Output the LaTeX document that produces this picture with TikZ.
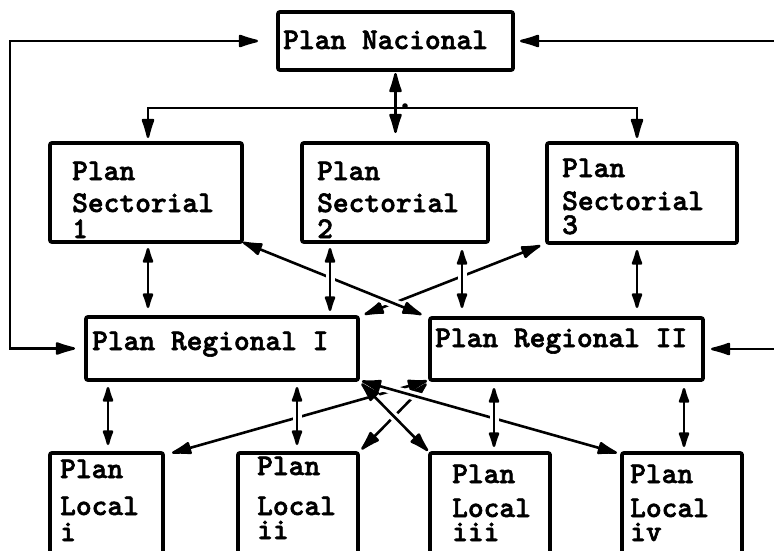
\documentclass[tikz,border=0pt]{standalone}
\usepackage{fontspec}
\newfontfamily\twfont{lmmonolt10-bold.otf}[FakeBold=2]
\usetikzlibrary{arrows.meta,calc}
\begin{document}
\begin{tikzpicture}[x=1pt,y=-1pt,
  box/.style={draw, line width=3.8pt, rounded corners=2pt, inner sep=0pt, outer sep=0pt},
  txt/.style={anchor=base west, inner sep=0pt, font=\fontsize{30}{32}\selectfont\twfont},
  conn/.style={line width=2.6pt},
  dbl/.style={conn, {Latex[length=25pt,width=14pt,round]}-{Latex[length=25pt,width=14pt,round]}},
  sdbl/.style={conn, {Latex[length=20pt,width=12pt,round]}-{Latex[length=20pt,width=12pt,round]}},
  arr/.style={conn, -{Latex[length=25pt,width=14pt,round]}},
  gap/.style={draw=white, line width=9pt, shorten <=17pt, shorten >=17pt}]
\useasboundingbox (0,0) rectangle (774,551);
\clip (0,0) rectangle (774,551);

% helper coordinates
\coordinate (lx) at (10,0);
\coordinate (rx) at (778,0);
\coordinate (bus) at (395,108);
\coordinate (v1) at (148,0);
\coordinate (v2) at (330,0);
\coordinate (v3) at (462,0);
\coordinate (v4) at (637,0);
\coordinate (w1) at (108,0);
\coordinate (w2) at (297,0);
\coordinate (w3) at (494,0);
\coordinate (w4) at (684,0);

% boxes
\node[box, minimum width=235pt, minimum height=58pt] (nac) at (395.5,41) {};
\node[box, minimum width=192pt, minimum height=99pt] (s1) at (146,192.5) {};
\node[box, minimum width=186pt, minimum height=99pt] (s2) at (395,192.5) {};
\node[box, minimum width=190pt, minimum height=100pt] (s3) at (642,193) {};
\node[box, minimum width=272pt, minimum height=63pt] (r1) at (222,348.5) {};
\node[box, minimum width=273pt, minimum height=62pt] (r2) at (566.5,349) {};
\node[box, minimum width=113pt, minimum height=122pt] (li) at (106.5,514) {};
\node[box, minimum width=120pt, minimum height=122pt] (lii) at (298,514) {};
\node[box, minimum width=120pt, minimum height=122pt] (liii) at (490,514) {};
\node[box, minimum width=120pt, minimum height=122pt] (liv) at (682,514) {};

% texts
\node[txt] (tn) at (283,49) {Plan Nacional};
\node[txt] (ts1a) at (72,180) {Plan};
\node[txt] (ts1b) at (72,212) {Sectorial};
\node[txt] (ts1c) at (72,238) {1};
\node[txt] (ts2a) at (317,180) {Plan};
\node[txt] (ts2b) at (317,212) {Sectorial};
\node[txt] (ts2c) at (317,238) {2};
\node[txt] (ts3a) at (562,177) {Plan};
\node[txt] (ts3b) at (562,210) {Sectorial};
\node[txt] (ts3c) at (562,234) {3};
\node[txt] (tr1) at (92,350) {Plan Regional I};
\node[txt] (tr2) at (435,347) {Plan Regional II};
\node[txt] (tl1a) at (60,478) {Plan};
\node[txt] (tl1b) at (60,515) {Local};
\node[txt] (tl1c) at (60,541) {i};
\node[txt] (tl2a) at (257,475) {Plan};
\node[txt] (tl2b) at (257,515) {Local};
\node[txt] (tl2c) at (257,539) {ii};
\node[txt] (tl3a) at (452,483) {Plan};
\node[txt] (tl3b) at (452,517) {Local};
\node[txt] (tl3c) at (452,541) {iii};
\node[txt] (tl4a) at (630,483) {Plan};
\node[txt] (tl4b) at (630,517) {Local};
\node[txt] (tl4c) at (630,541) {iv};

% outer loops
\draw[dbl] ([xshift=-11pt]r1.west) -| (lx |- nac.west) -- ([xshift=-20pt]nac.west);
\draw[dbl] ([xshift=8pt]r2.east) -| (rx |- nac.east) -- ([xshift=7pt]nac.east);

% national distribution
\draw[dbl, shorten <=3pt, shorten >=10pt] (nac.south) -- (nac.south |- s2.north);
\draw[arr, shorten >=5pt] (bus) -| (s1.north -| v1);
\draw[arr, shorten >=5pt] (bus) -| (s3.north -| v4);
\fill (405,106) circle (2.8pt);

% bottom diagonals
\draw[dbl, shorten <=5pt, shorten >=5pt] (lii.north east) -- (r2.south west);
\draw[dbl, shorten >=3pt] ([xshift=9pt]li.north east) -- (r2.south west);
\path[gap] (r1.south east) -- (liii.north west);
\draw[dbl, shorten <=5pt, shorten >=3pt] (r1.south east) -- (liii.north west);
\path[gap] (r1.south east) -- ([xshift=-5pt]liv.north west);
\draw[dbl, shorten <=4pt] (r1.south east) -- ([xshift=-5pt]liv.north west);

% top diagonals
\draw[dbl, shorten <=7pt, shorten >=7pt] (s3.south west) -- (r1.north east);
\path[gap] (s1.south east) -- (r2.north west);
\draw[dbl, shorten <=1pt, shorten >=9pt] (s1.south east) -- (r2.north west);

% vertical links sectorial - regional
\path[gap] (s1.south -| v1) -- (r1.north -| v1);
\draw[sdbl, shorten <=6pt, shorten >=9pt] (s1.south -| v1) -- (r1.north -| v1);
\path[gap] (s2.south -| v2) -- (r1.north -| v2);
\draw[sdbl, shorten <=6pt, shorten >=6pt] (s2.south -| v2) -- (r1.north -| v2);
\path[gap] (s2.south -| v3) -- (r2.north -| v3);
\draw[sdbl, shorten <=8pt, shorten >=10pt] (s2.south -| v3) -- (r2.north -| v3);
\path[gap] (s3.south -| v4) -- (r2.north -| v4);
\draw[sdbl, shorten <=7pt, shorten >=10pt] (s3.south -| v4) -- (r2.north -| v4);

% vertical links regional - local
\path[gap] (r1.south -| w1) -- (li.north -| w1);
\draw[sdbl, shorten <=7pt, shorten >=8pt] (r1.south -| w1) -- (li.north -| w1);
\path[gap] (r1.south -| w2) -- (lii.north -| w2);
\draw[sdbl, shorten <=7pt, shorten >=8pt] (r1.south -| w2) -- (lii.north -| w2);
\path[gap] (r2.south -| w3) -- (liii.north -| w3);
\draw[sdbl, shorten <=8pt, shorten >=6pt] (r2.south -| w3) -- (liii.north -| w3);
\path[gap] (r2.south -| w4) -- (liv.north -| w4);
\draw[sdbl, shorten <=8pt, shorten >=6pt] (r2.south -| w4) -- (liv.north -| w4);
\end{tikzpicture}
\end{document}
